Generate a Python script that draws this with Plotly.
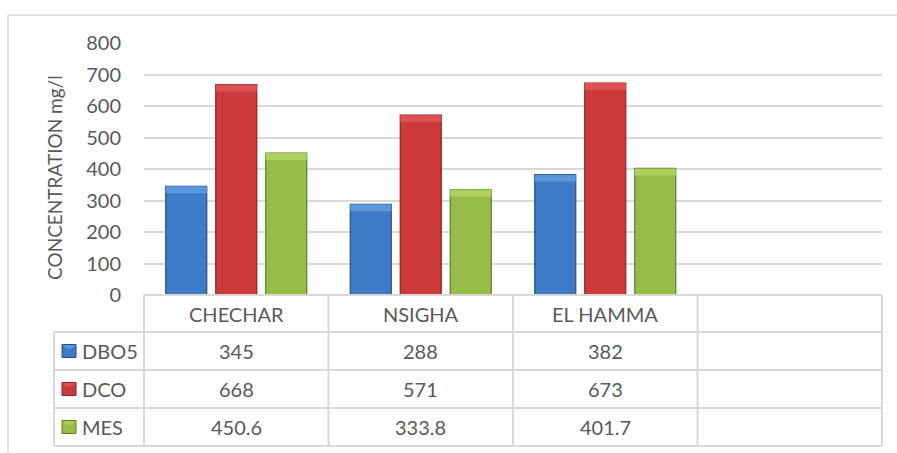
import plotly.graph_objects as go

categories = ["CHECHAR", "NSIGHA", "EL HAMMA"]
series_names = ["DBO5", "DCO", "MES"]
dbo5 = [345, 288, 382]
dco = [668, 571, 673]
mes = [450.6, 333.8, 401.7]
value_labels = [["345", "288", "382"], ["668", "571", "673"], ["450.6", "333.8", "401.7"]]
y_ticks = [0, 100, 200, 300, 400, 500, 600, 700, 800]

colors = ["#3d7bc6", "#cc3a3a", "#97bd46"]
cap_colors = ["#5b97da", "#dc5252", "#aed05c"]
edge = ["#244f86", "#8a2323", "#5f7d25"]
series_vals = [dbo5, dco, mes]
cap = 22  # bevel band height in data units

W, H = 897, 453
L, R, T, B = 144, 15, 43, 158
plot_w = W - L - R
plot_h = H - T - B
ncat = 4
cat_w = plot_w / ncat

def xp(px):
    return (px - L) / plot_w

def yp(py):
    return (H - B - py) / plot_h

def col_px(k):
    return L + k * cat_w

fig = go.Figure()
xs = list(range(len(categories)))
for name, vals, c, cc, e in zip(series_names, series_vals, colors, cap_colors, edge):
    fig.add_trace(go.Bar(x=xs, y=vals, name=name, offsetgroup=name,
                         marker=dict(color=c, line=dict(color=e, width=1.2)),
                         showlegend=False, hoverinfo="y"))
    fig.add_trace(go.Bar(x=xs, y=[cap] * len(vals), base=[v - cap for v in vals],
                         name=name, offsetgroup=name,
                         marker=dict(color=cc, line=dict(color=cc, width=0)),
                         showlegend=False, hoverinfo="skip"))

grid = "#d9d9d9"
text_col = "#595959"
font = "Lato"
fs = 20

shapes = []
shapes.append(dict(type="line", xref="paper", yref="paper", x0=xp(8), x1=1.1,
                   y0=yp(15), y1=yp(15), line=dict(color=grid, width=1.5)))
shapes.append(dict(type="line", xref="paper", yref="paper", x0=xp(8), x1=xp(8),
                   y0=yp(15), y1=yp(470), line=dict(color=grid, width=1.5)))

row_lines = [295, 332, 370, 408, 446]
for i, py in enumerate(row_lines):
    x0 = xp(L) if i == 0 else xp(54)
    shapes.append(dict(type="line", xref="paper", yref="paper", x0=x0, x1=1,
                       y0=yp(py), y1=yp(py), line=dict(color=grid, width=2)))
shapes.append(dict(type="line", xref="paper", yref="paper", x0=xp(54), x1=xp(54),
                   y0=yp(332), y1=yp(446), line=dict(color=grid, width=2)))
for k in range(ncat + 1):
    shapes.append(dict(type="line", xref="paper", yref="paper", x0=xp(col_px(k)), x1=xp(col_px(k)),
                       y0=yp(295), y1=yp(446), line=dict(color=grid, width=2)))

annotations = []
annotations.append(dict(text="CONCENTRATION mg/l", xref="paper", yref="paper",
                        x=xp(54), y=yp(178), showarrow=False, textangle=-90,
                        font=dict(family=font, size=19, color=text_col),
                        xanchor="center", yanchor="middle"))
for i, c in enumerate(categories):
    annotations.append(dict(text=c, xref="x", yref="paper", x=i, y=yp(313.5),
                            showarrow=False, font=dict(family=font, size=fs, color=text_col),
                            xanchor="center", yanchor="middle"))
row_centers = [351, 389, 427]
for r, (name, labels) in enumerate(zip(series_names, value_labels)):
    yc = yp(row_centers[r])
    shapes.append(dict(type="rect", xref="paper", yref="paper", x0=xp(62), x1=xp(76),
                       y0=yp(row_centers[r] + 6.5), y1=yp(row_centers[r] - 6.5),
                       fillcolor=colors[r], line=dict(color=edge[r], width=1)))
    shapes.append(dict(type="path", xref="paper", yref="paper",
                       path=f"M {xp(62.5)},{yp(row_centers[r]-6)} L {xp(75.5)},{yp(row_centers[r]-6)} "
                            f"L {xp(72)},{yp(row_centers[r]-2.5)} L {xp(66)},{yp(row_centers[r]-2.5)} Z",
                       fillcolor=cap_colors[r], line=dict(width=0)))
    annotations.append(dict(text=name, xref="paper", yref="paper", x=xp(80), y=yc,
                            showarrow=False, font=dict(family=font, size=fs, color=text_col),
                            xanchor="left", yanchor="middle"))
    for i, lab in enumerate(labels):
        annotations.append(dict(text=lab, xref="x", yref="paper", x=i, y=yc,
                                showarrow=False, font=dict(family=font, size=fs, color=text_col),
                                xanchor="center", yanchor="middle"))

fig.update_layout(
    width=W, height=H,
    margin=dict(l=L, r=R, t=T, b=B, pad=0),
    paper_bgcolor="white", plot_bgcolor="white",
    barmode="group", bargap=0.187, bargroupgap=0.18,
    shapes=shapes, annotations=annotations,
    font=dict(family=font, size=fs, color=text_col),
    xaxis=dict(range=[-0.5, ncat - 0.5], showticklabels=False, showgrid=False,
               zeroline=False, showline=False, ticks="", fixedrange=True),
    yaxis=dict(range=[0, 800], tickvals=y_ticks, showgrid=True, gridcolor=grid, gridwidth=1.5,
               zeroline=False, showline=False, ticks="", ticklabelstandoff=22,
               tickfont=dict(family=font, size=fs, color=text_col), fixedrange=True),
)

fig.write_html("out.html", config={"displayModeBar": False},
               post_script="document.body.style.margin='0';document.body.style.overflow='hidden';")
